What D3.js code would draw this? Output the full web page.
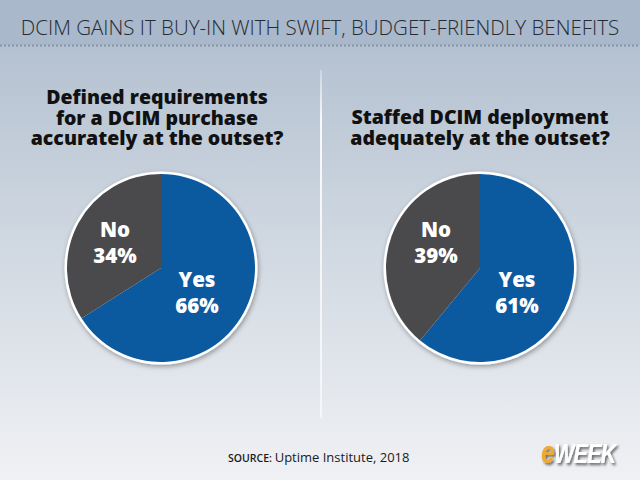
<!DOCTYPE html>
<html>
<head>
<meta charset="utf-8">
<script src="https://cdn.jsdelivr.net/npm/d3@7"></script>
<style>
  html, body { margin: 0; padding: 0; }
  body { width: 640px; height: 480px; overflow: hidden; }
</style>
</head>
<body>
<div id="chart"></div>
<script>
// data
var title = "DCIM GAINS IT BUY-IN WITH SWIFT, BUDGET-FRIENDLY BENEFITS";
var categories = ["Yes", "No"];
var questions = [
  ["Defined requirements", "for a DCIM purchase", "accurately at the outset?"],
  ["Staffed DCIM deployment", "adequately at the outset?"]
];
var yesValues = [66, 61];
var noValues = [34, 39];
var sourceLabel = "SOURCE:";
var sourceText = "Uptime Institute, 2018";

var W = 640, H = 480;
var svg = d3.select("#chart").append("svg")
    .attr("width", W).attr("height", H);

var defs = svg.append("defs");
var bg = defs.append("linearGradient").attr("id", "bg")
    .attr("x1", 0).attr("y1", 0).attr("x2", 0).attr("y2", 1);
bg.append("stop").attr("offset", "0%").attr("stop-color", "#aebccd");
bg.append("stop").attr("offset", "45%").attr("stop-color", "#ccd5df");
bg.append("stop").attr("offset", "100%").attr("stop-color", "#f0f1f4");

var shadow = defs.append("filter").attr("id", "shadow")
    .attr("x", "-20%").attr("y", "-20%").attr("width", "140%").attr("height", "140%");
shadow.append("feDropShadow").attr("dx", 1).attr("dy", 2)
    .attr("stdDeviation", 2.5).attr("flood-color", "#000").attr("flood-opacity", 0.35);

var logoShadow = defs.append("filter").attr("id", "logoShadow")
    .attr("x", "-20%").attr("y", "-30%").attr("width", "140%").attr("height", "160%");
logoShadow.append("feDropShadow").attr("dx", 2).attr("dy", 2)
    .attr("stdDeviation", 1.5).attr("flood-color", "#000").attr("flood-opacity", 0.6);

svg.append("rect").attr("width", W).attr("height", H).attr("fill", "url(#bg)");
svg.append("rect").attr("width", W).attr("height", 45).attr("fill", "#a9b8ca");

// dotted rule under header
svg.append("line")
    .attr("x1", 0).attr("x2", W).attr("y1", 45.5).attr("y2", 45.5)
    .attr("stroke", "#8493a6").attr("stroke-width", 2)
    .attr("stroke-dasharray", "2,2");

svg.append("text")
    .attr("x", 320).attr("y", 35)
    .attr("text-anchor", "middle")
    .style("font-family", "'Open Sans', sans-serif")
    .style("font-weight", 300)
    .style("font-size", "20.5px")
    .attr("fill", "#262b33")
    .text(title);

// divider
var div = defs.append("linearGradient").attr("id", "div")
    .attr("x1", 0).attr("y1", 0).attr("x2", 0).attr("y2", 1);
div.append("stop").attr("offset", "0%").attr("stop-color", "#fff").attr("stop-opacity", 0.3);
div.append("stop").attr("offset", "15%").attr("stop-color", "#fff").attr("stop-opacity", 0.9);
div.append("stop").attr("offset", "100%").attr("stop-color", "#fff").attr("stop-opacity", 0.6);
svg.append("rect").attr("x", 320).attr("y", 70).attr("width", 2).attr("height", 348)
    .attr("fill", "url(#div)");

var colors = d3.scaleOrdinal().domain(categories).range(["#0b5a9f", "#4a4a4d"]);
var pie = d3.pie().sort(null).value(function (d) { return d.value; });
var radius = 94;
var arc = d3.arc().innerRadius(0).outerRadius(radius);

var centers = [[161, 268], [480, 268]];
var titleBase = [[104, 124.5, 145], [124, 144.5]];
var labelPos = {
  Yes: [[197, 287], [517, 287]],
  No: [[115, 237], [436, 237]]
};

questions.forEach(function (q, i) {
  var g = svg.append("g");
  g.selectAll("text.q")
    .data(q)
    .enter()
    .append("text")
    .classed("q", true)
    .attr("x", centers[i][0] - (i === 0 ? 4 : -0))
    .attr("y", function (d, j) { return titleBase[i][j]; })
    .attr("text-anchor", "middle")
    .style("font-family", "'Open Sans', sans-serif")
    .style("font-weight", 800)
    .style("font-size", "19.5px")
    .attr("fill", "#111")
    .text(function (d) { return d; });

  var data = [
    { key: categories[0], value: yesValues[i] },
    { key: categories[1], value: noValues[i] }
  ];

  var pg = svg.append("g")
      .attr("transform", "translate(" + centers[i][0] + "," + centers[i][1] + ")");
  pg.append("circle").attr("r", radius + 2.5)
      .attr("fill", "#fff")
      .attr("filter", "url(#shadow)");
  pg.selectAll("path")
    .data(pie(data))
    .enter()
    .append("path")
    .attr("d", arc)
    .attr("fill", function (d) { return colors(d.data.key); });

  data.forEach(function (d) {
    var p = labelPos[d.key][i];
    var t = svg.append("text")
        .attr("text-anchor", "middle")
        .style("font-family", "'Open Sans', sans-serif")
        .style("font-weight", 800)
        .style("font-size", "20.5px")
        .attr("fill", "#fff");
    t.append("tspan").attr("x", p[0]).attr("y", p[1]).text(d.key);
    t.append("tspan").attr("x", p[0]).attr("y", p[1] + 26).text(d.value + "%");
  });
});

// source
var src = svg.append("text")
    .attr("x", 228).attr("y", 462)
    .attr("fill", "#1a1a1a")
    .style("font-family", "'Open Sans', sans-serif");
src.append("tspan").style("font-size", "10.5px").style("font-weight", 600).text(sourceLabel + " ");
src.append("tspan").style("font-size", "13px").style("font-weight", 500).text(sourceText);

// logo
var logo = svg.append("text")
    .attr("transform", "translate(541,463) scale(0.8,1)")
    .attr("filter", "url(#logoShadow)")
    .style("font-family", "'Liberation Sans', sans-serif")
    .style("font-weight", 700)
    .style("font-style", "italic")
    .style("font-size", "27px");
logo.append("tspan").attr("fill", "#f0a830").style("font-size", "31px").text("e");
logo.append("tspan").attr("fill", "#fff").attr("dx", -1).style("letter-spacing", "-1px").text("WEEK");
</script>
</body>
</html>
